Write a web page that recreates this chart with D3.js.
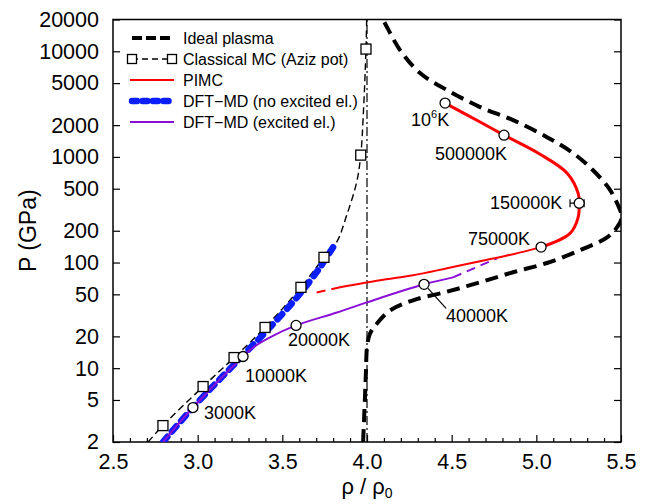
<!DOCTYPE html>
<html>
<head>
<meta charset="utf-8">
<script src="https://cdn.jsdelivr.net/npm/d3@7"></script>
<style>
html,body{margin:0;padding:0;background:#fff;}
svg{display:block;font-family:"Liberation Sans",Arial,Helvetica,sans-serif;}
</style>
</head>
<body>
<svg id="chart" width="650" height="504"></svg>
<script>
// ---------------- DATA ----------------
const xTicks = [2.5, 3.0, 3.5, 4.0, 4.5, 5.0, 5.5];
const yTicks = [2, 5, 10, 20, 50, 100, 200, 500, 1000, 2000, 5000, 10000, 20000];

// Ideal plasma (rho/rho0, P GPa)
const idealRho = [3.977, 3.988, 3.994, 4.000, 4.018, 4.059, 4.136, 4.272, 4.473, 4.668, 4.863, 5.063, 5.258, 5.418, 5.477, 5.507, 5.495, 5.436, 5.335, 5.217, 5.063, 4.863, 4.668, 4.473, 4.313, 4.195, 4.095, 4.080];
const idealP   = [2, 5.3, 9.5, 15.7, 21.3, 26.5, 35.2, 43.9, 53, 65, 81, 99, 131, 173, 216, 275, 313, 484, 748, 1087, 1538, 2230, 2965, 4295, 6220, 10280, 19800, 21500];

// Classical MC (Aziz pot) curve and markers
const mcRho = [2.707, 2.795, 3.032, 3.215, 3.398, 3.610, 3.746, 3.821, 3.880, 3.939, 3.963, 3.978, 3.994, 3.998];
const mcP   = [2, 2.86, 6.7, 12.6, 24.3, 58.2, 112, 156, 280, 577, 1040, 2490, 10500, 20000];
const mcMarkRho = [2.795, 3.032, 3.215, 3.398, 3.610, 3.746, 3.963, 3.994];
const mcMarkP   = [2.86, 6.7, 12.6, 24.3, 58.2, 112, 1040, 10500];

// PIMC: thick part, thin solid part, dashed extrapolation
const pimcHiRho = [4.461, 4.668, 4.809, 5.022, 5.182, 5.247, 5.253, 5.247, 5.199, 5.028];
const pimcHiP   = [3235, 2140, 1608, 1060, 701, 453, 365, 268, 189, 140];
const pimcLoRho = [5.028, 4.863, 4.668, 4.473, 4.272, 4.077, 3.841];
const pimcLoP   = [140, 120, 103, 88.3, 75.7, 68, 58.3];
const pimcDashRho = [3.841, 3.681];
const pimcDashP   = [58.3, 51.1];

// DFT-MD (no excited electrons)
const dftNoRho = [2.795, 2.972, 3.250, 3.410, 3.587, 3.723, 3.800];
const dftNoP   = [2, 4.24, 12.4, 22.8, 46.9, 90.2, 140];

// DFT-MD (excited electrons)
const dftExRho = [2.795, 2.972, 3.268, 3.327, 3.427, 3.581, 3.823, 4.000, 4.337, 4.508];
const dftExP   = [2, 4.24, 12.9, 15.7, 19.6, 25.4, 33.7, 42.0, 62.2, 72.4];
const dftExDashRho = [4.508, 4.768];
const dftExDashP   = [72.4, 109.7];

// Temperature points
const tempLabels = ["3000K", "10000K", "20000K", "40000K", "75000K", "150000K", "500000K", "10^6K"];
const tempRho    = [2.972, 3.268, 3.581, 4.337, 5.028, 5.253, 4.809, 4.461];
const tempP      = [4.24, 12.9, 25.4, 62.2, 140, 365, 1608, 3235];

// error bar at 150000K
const errRho = [5.199, 5.282];
const errP = 365;

const legendLabels = ["Ideal plasma", "Classical MC (Aziz pot)", "PIMC", "DFT\u2212MD (no excited el.)", "DFT\u2212MD (excited el.)"];

// ---------------- CHART ----------------
const svg = d3.select("#chart");
const L = 113, R = 621, T = 19.5, B = 442;
const x = d3.scaleLinear().domain([2.5, 5.5]).range([L, R]);
const y = d3.scaleLog().domain([2, 20000]).range([B, T]);

const zip = (a, b) => a.map((v, i) => [v, b[i]]);
const line = d3.line().x(d => x(d[0])).y(d => y(d[1])).curve(d3.curveCatmullRom.alpha(0.5));
const straight = d3.line().x(d => x(d[0])).y(d => y(d[1]));

svg.append("defs").append("clipPath").attr("id", "clip")
  .append("rect").attr("x", L).attr("y", T).attr("width", R - L).attr("height", B - T);

// axes
const minor = d3.range(26, 55).map(v => v / 10).filter(v => Math.abs(v * 2 - Math.round(v * 2)) > 1e-6);
svg.append("g").attr("transform", `translate(0,${B})`)
  .call(d3.axisBottom(x).tickValues(xTicks).tickFormat(d3.format(".1f")).tickSize(-7).tickPadding(12));
svg.append("g").attr("transform", `translate(0,${B})`)
  .call(d3.axisBottom(x).tickValues(minor).tickFormat("").tickSize(-4));
svg.append("g").attr("transform", `translate(${L},0)`)
  .call(d3.axisLeft(y).tickValues(yTicks).tickFormat(d3.format("d")).tickSize(-7).tickPadding(14));
svg.append("g").attr("transform", `translate(${R},0)`)
  .call(d3.axisRight(y).tickValues(yTicks).tickFormat("").tickSize(-7));
svg.selectAll(".domain").remove();
svg.selectAll(".tick line").attr("stroke", "#000").attr("stroke-width", 1.2);
svg.selectAll(".tick text").attr("font-size", 21.5).attr("fill", "#000")
  .attr("font-family", '"Liberation Sans",Arial,sans-serif');

svg.append("rect").attr("x", L).attr("y", T).attr("width", R - L).attr("height", B - T)
  .attr("fill", "none").attr("stroke", "#000").attr("stroke-width", 1.5);

// axis titles
svg.append("text").attr("transform", `translate(36,${(T + B) / 2}) rotate(-90)`)
  .attr("text-anchor", "middle").attr("font-size", 23).text("P (GPa)");
const xt = svg.append("text").attr("x", (L + R) / 2).attr("y", 494).attr("text-anchor", "middle").attr("font-size", 22);
xt.append("tspan").text("\u03c1 / \u03c1");
xt.append("tspan").attr("font-size", 14).attr("dy", 4).text("0");

const plot = svg.append("g").attr("clip-path", "url(#clip)");

// vertical rho/rho0 = 4 limit
plot.append("path").attr("d", straight([[4.0, 2], [4.0, 20000]]))
  .attr("stroke", "#000").attr("stroke-width", 1.2).attr("fill", "none")
  .attr("stroke-dasharray", "9,3,2,3");

// ideal plasma
plot.append("path").attr("d", line(zip(idealRho, idealP)))
  .attr("stroke", "#000").attr("stroke-width", 4).attr("fill", "none")
  .attr("stroke-dasharray", "13,7");

// classical MC
plot.append("path").attr("d", line(zip(mcRho, mcP)))
  .attr("stroke", "#000").attr("stroke-width", 1.4).attr("fill", "none")
  .attr("stroke-dasharray", "7,4");

// DFT no excited
plot.append("path").attr("d", line(zip(dftNoRho, dftNoP)))
  .attr("stroke", "#0a1eff").attr("stroke-width", 6.5).attr("fill", "none")
  .attr("stroke-linecap", "round").attr("stroke-dasharray", "7,7");

// DFT excited
plot.append("path").attr("d", line(zip(dftExRho, dftExP)))
  .attr("stroke", "#8a0fd6").attr("stroke-width", 2).attr("fill", "none");
plot.append("path").attr("d", straight(zip(dftExDashRho, dftExDashP)))
  .attr("stroke", "#8a0fd6").attr("stroke-width", 2).attr("fill", "none").attr("stroke-dasharray", "9,6");

// PIMC
plot.append("path").attr("d", line(zip(pimcHiRho, pimcHiP)))
  .attr("stroke", "#f00").attr("stroke-width", 3).attr("fill", "none");
plot.append("path").attr("d", line(zip(pimcLoRho, pimcLoP)))
  .attr("stroke", "#f00").attr("stroke-width", 2).attr("fill", "none");
plot.append("path").attr("d", straight(zip(pimcDashRho, pimcDashP)))
  .attr("stroke", "#f00").attr("stroke-width", 2).attr("fill", "none").attr("stroke-dasharray", "9,6");

// error bar
plot.append("path").attr("d", straight([[errRho[0], errP], [errRho[1], errP]]))
  .attr("stroke", "#000").attr("stroke-width", 1.2);
errRho.forEach(r => plot.append("line").attr("x1", x(r)).attr("x2", x(r))
  .attr("y1", y(errP) - 4).attr("y2", y(errP) + 4).attr("stroke", "#000").attr("stroke-width", 1.2));

// MC squares
plot.selectAll(".sq").data(zip(mcMarkRho, mcMarkP)).enter().append("rect")
  .attr("x", d => x(d[0]) - 5).attr("y", d => y(d[1]) - 5).attr("width", 10).attr("height", 10)
  .attr("fill", "#fff").attr("stroke", "#000").attr("stroke-width", 1.3);

// temperature circles
const temps = tempLabels.map((t, i) => ({ t, r: tempRho[i], p: tempP[i] }));
plot.selectAll(".pt").data(temps).enter().append("circle")
  .attr("cx", d => x(d.r)).attr("cy", d => y(d.p)).attr("r", 5)
  .attr("fill", "#fff").attr("stroke", "#000").attr("stroke-width", 1.3);

// labels (offsets in px relative to point)
const labOff = {
  "3000K": [11, 11, "start"],
  "10000K": [2, 26, "start"],
  "20000K": [-8, 21, "start"],
  "40000K": [22, 38, "start"],
  "75000K": [-11, -2, "end"],
  "150000K": [-17, 6, "end"],
  "500000K": [-33, 25, "middle"],
  "10^6K": [-34, 23, "start"]
};
temps.forEach(d => {
  const o = labOff[d.t];
  const tx = svg.append("text").attr("x", x(d.r) + o[0]).attr("y", y(d.p) + o[1])
    .attr("text-anchor", o[2]).attr("font-size", 18);
  if (d.t === "10^6K") {
    tx.append("tspan").text("10");
    tx.append("tspan").attr("font-size", 11).attr("dy", -8).text("6");
    tx.append("tspan").attr("dy", 8).text("K");
  } else tx.text(d.t);
});
// leader line for 40000K
const p40 = temps[3];
svg.append("line").attr("x1", x(p40.r) + 4).attr("y1", y(p40.p) + 4)
  .attr("x2", x(p40.r) + 22).attr("y2", y(p40.p) + 24).attr("stroke", "#000").attr("stroke-width", 1.2);

// legend
const lg = svg.append("g");
const lx1 = 132, lx2 = 172, ly0 = 38, lstep = 21;
legendLabels.forEach((t, i) => {
  const yy = ly0 + i * lstep;
  lg.append("text").attr("x", 183).attr("y", yy + 6).attr("font-size", 16).text(t);
});
lg.append("line").attr("x1", lx1).attr("x2", lx2 + 2).attr("y1", ly0).attr("y2", ly0)
  .attr("stroke", "#000").attr("stroke-width", 4).attr("stroke-dasharray", "10,4");
lg.append("line").attr("x1", lx1).attr("x2", lx2).attr("y1", ly0 + lstep).attr("y2", ly0 + lstep)
  .attr("stroke", "#000").attr("stroke-width", 1.4).attr("stroke-dasharray", "6,4");
[lx1, lx2].forEach(xx => lg.append("rect").attr("x", xx - 4.5).attr("y", ly0 + lstep - 4.5)
  .attr("width", 9).attr("height", 9).attr("fill", "#fff").attr("stroke", "#000").attr("stroke-width", 1.3));
lg.append("line").attr("x1", lx1 - 2).attr("x2", lx2 + 2).attr("y1", ly0 + 2 * lstep).attr("y2", ly0 + 2 * lstep)
  .attr("stroke", "#f00").attr("stroke-width", 2);
lg.append("line").attr("x1", lx1).attr("x2", lx2).attr("y1", ly0 + 3 * lstep).attr("y2", ly0 + 3 * lstep)
  .attr("stroke", "#0a1eff").attr("stroke-width", 6.5).attr("stroke-linecap", "round").attr("stroke-dasharray", "5,5.5");
lg.append("line").attr("x1", lx1 - 2).attr("x2", lx2 + 2).attr("y1", ly0 + 4 * lstep).attr("y2", ly0 + 4 * lstep)
  .attr("stroke", "#8a0fd6").attr("stroke-width", 2);
</script>
</body>
</html>
